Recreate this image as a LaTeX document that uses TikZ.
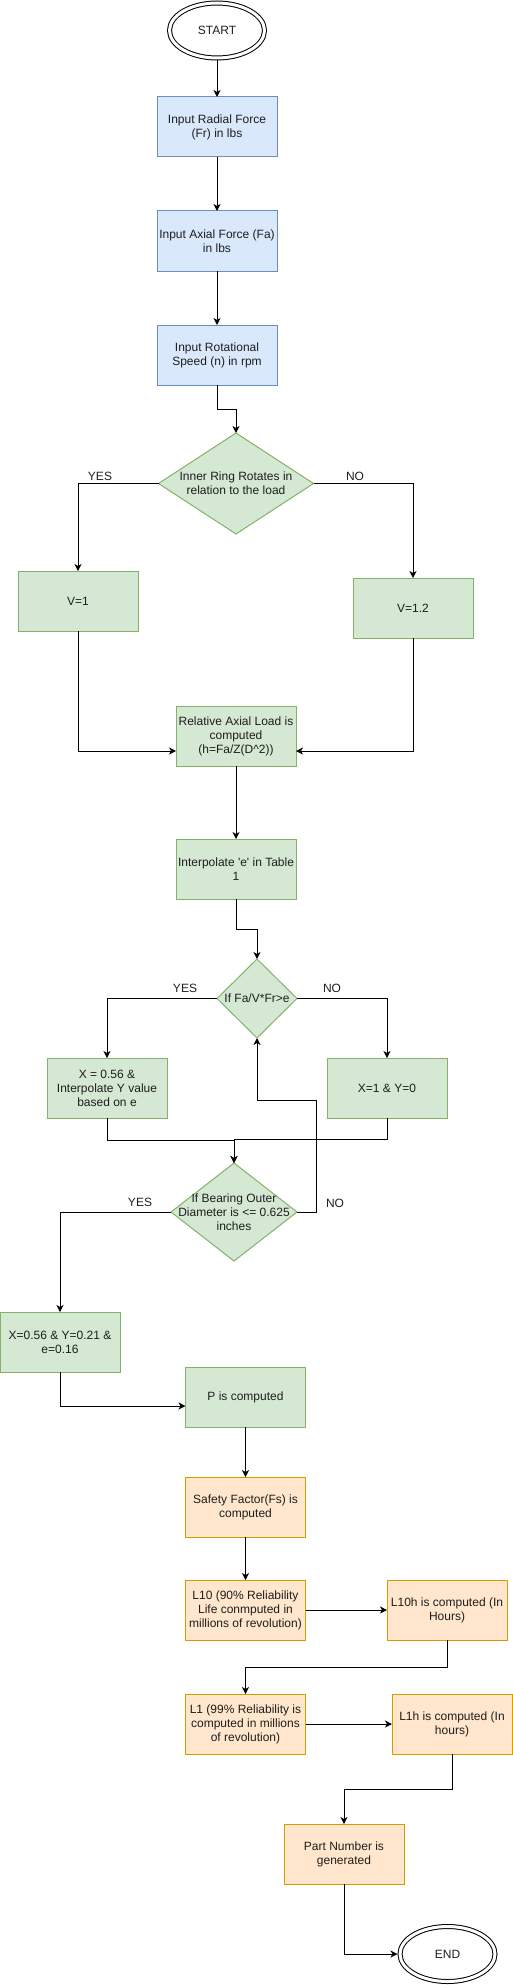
\documentclass[tikz,border=0pt]{standalone}
\usepackage{fontspec}
\setmainfont{Liberation Sans}
\usetikzlibrary{shapes.geometric,arrows.meta,positioning}
\definecolor{myblue}{RGB}{218,232,252}
\definecolor{mybluedraw}{RGB}{108,142,191}
\definecolor{mygreen}{RGB}{213,232,212}
\definecolor{mygreendraw}{RGB}{130,179,102}
\definecolor{myorange}{RGB}{255,230,204}
\definecolor{myorangedraw}{RGB}{215,155,0}
\definecolor{mytext}{RGB}{30,30,30}

\begin{document}
\begin{tikzpicture}[x=1pt,y=-1pt,line width=1pt,
  font=\fontsize{12}{14}\selectfont,text=mytext,
  >={Stealth[length=7pt,width=7pt,inset=2pt]},
  box/.style={rectangle,draw,minimum width=120pt,minimum height=60pt,
    inner sep=2pt,outer sep=0pt,align=center},
  inbox/.style={box,fill=myblue,draw=mybluedraw},
  gbox/.style={box,fill=mygreen,draw=mygreendraw},
  obox/.style={box,fill=myorange,draw=myorangedraw},
  decide/.style={diamond,draw=mygreendraw,fill=mygreen,inner sep=0pt,outer sep=0pt},
  term/.style={ellipse,draw,double,double distance=3pt,minimum width=95pt,
    minimum height=55pt,inner sep=0pt,outer sep=2.5pt},
  ans/.style={inner sep=0pt}]

  \useasboundingbox (0,0) rectangle (513,1985);

  % inputs
  \node[term] (start) at (217,30.5) {START};
  \node[inbox] (radial) at (217,127) {Input Radial Force\\(Fr) in lbs};
  \node[inbox] (axial) at (217,241) {Input Axial Force (Fa)\\in lbs};
  \node[inbox] (speed) at (217,355) {Input Rotational\\Speed (n) in rpm};

  % first decision
  \node[decide,minimum width=155pt,minimum height=101pt,
    label={[align=center]center:Inner Ring Rotates in\\relation to the load}] (ring) at (236,483.5) {};
  \node[gbox] (vone) at (78,601) {V=1};
  \node[gbox] (vtwo) at (413,608) {V=1.2};
  \node[gbox] (rel) at (236,736) {Relative Axial Load is\\computed\\(h=Fa/Z(D\textasciicircum 2))};
  \node[gbox] (interp) at (236,869) {Interpolate \textquotesingle e\textquotesingle\ in Table\\1};

  % second decision
  \node[decide,minimum width=80pt,minimum height=79pt,
    label={center:If Fa/V*Fr>e}] (load) at (257,998.5) {};
  \node[gbox] (xa) at (107,1088) {X = 0.56 \&\\Interpolate Y value\\based on e};
  \node[gbox] (xb) at (387,1088) {X=1 \& Y=0};

  % third decision
  \node[decide,minimum width=126pt,minimum height=98pt,
    label={[align=center]center:If Bearing Outer\\Diameter is <= 0.625\\inches}] (bore) at (234,1212) {};
  \node[gbox] (xc) at (60,1342) {X=0.56 \& Y=0.21 \&\\e=0.16};

  % results
  \node[gbox] (p) at (245.5,1397) {P is computed};
  \node[obox] (sf) at (245.5,1507) {Safety Factor(Fs) is\\computed};
  \node[obox] (l10) at (245.5,1610) {L10 (90\% Reliability\\Life conmputed in\\millions of revolution)};
  \node[obox] (l10h) at (447,1610) {L10h is computed (In\\Hours)};
  \node[obox] (l1) at (245.5,1724) {L1 (99\% Reliability is\\computed in millions\\of revolution)};
  \node[obox] (l1h) at (452,1724) {L1h is computed (In\\hours)};
  \node[obox] (part) at (344,1854) {Part Number is\\generated};
  \node[term] (finish) at (447.5,1954) {END};

  % branch labels
  \node[ans] (yesa) at (100,476) {YES};
  \node[ans] (noa) at (355,476) {NO};
  \node[ans] (yesb) at (185,988) {YES};
  \node[ans] (nob) at (332,988) {NO};
  \node[ans] (yesc) at (140,1202) {YES};
  \node[ans] (noc) at (335,1203) {NO};

  % draw connectors
  \draw[->] (start) -- (radial);
  \draw[->] (radial) -- (axial);
  \draw[->] (axial) -- (speed);
  \draw[->] (speed.south) -- ++(0,24) -| (ring.north);
  \draw[->] (ring.west) -| (vone.north);
  \draw[->] (ring.east) -| (vtwo.north);
  \draw[->] (vone.south) |- ([yshift=-15pt]rel.west);
  \draw[->] (vtwo.south) |- ([yshift=-15pt]rel.east);
  \draw[->] (rel) -- (interp);
  \draw[->] (interp.south) -- ++(0,30) -| (load.north);
  \draw[->] (load.west) -| (xa.north);
  \draw[->] (load.east) -| (xb.north);
  \draw[->] (xa.south) -- ++(0,22) -| (bore.north);
  \draw[->] (xb.south) -- ++(0,21) -| (bore.north);
  \draw[->] (bore.east) -| ++(19,-112) -| (load.south);
  \draw[->] (bore.west) -| (xc.north);
  \draw[->] (xc.south) |- ([yshift=-9pt]p.west);
  \draw[->] (p) -- (sf);
  \draw[->] (sf) -- (l10);
  \draw[->] (l10) -- (l10h);
  \draw[->] (l10h.south) -- ++(0,27) -| (l1.north);
  \draw[->] (l1) -- (l1h);
  \draw[->] (l1h.south) -- ++(0,35) -| (part.north);
  \draw[->] (part.south) |- (finish.west);

\end{tikzpicture}
\end{document}
